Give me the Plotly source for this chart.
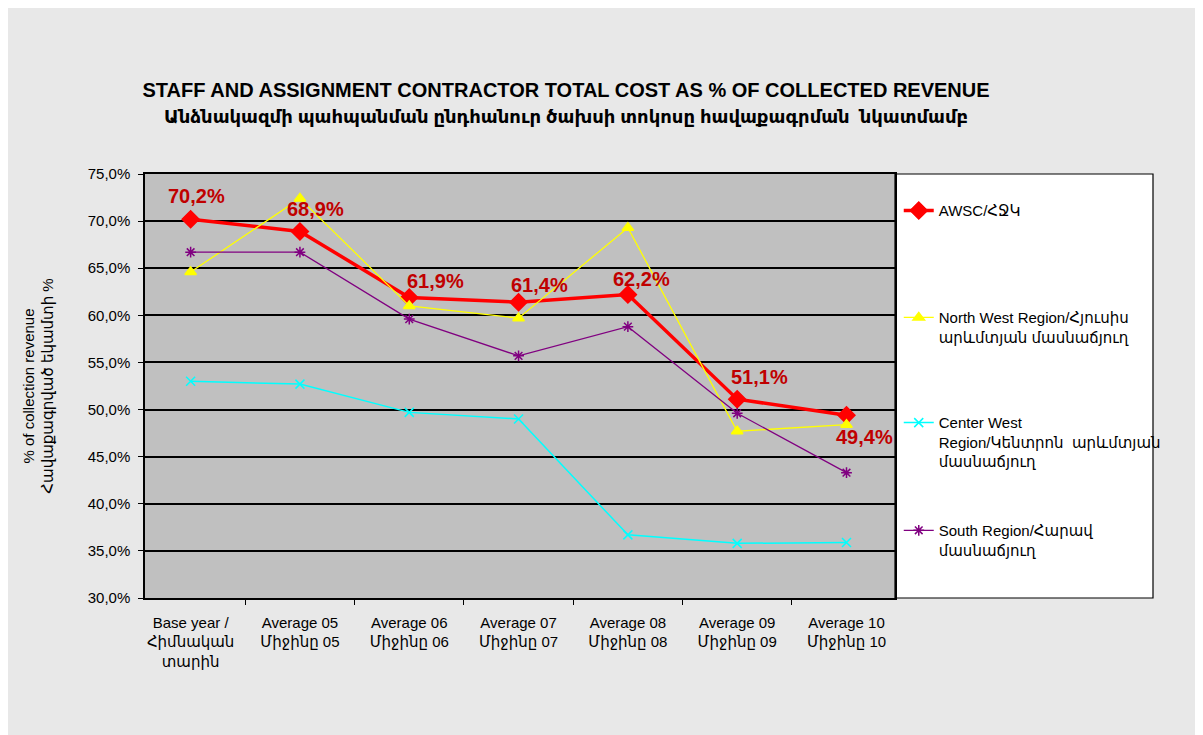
import plotly.graph_objects as go


# ═══════════════════════════════════════════════════════════════
# Datos
# ═══════════════════════════════════════════════════════════════

categorias = [
    "Base year /<br>Հիմնական<br>տարին",
    "Average 05<br>Միջինը 05",
    "Average 06<br>Միջինը 06",
    "Average 07<br>Միջինը 07",
    "Average 08<br>Միջինը 08",
    "Average 09<br>Միջինը 09",
    "Average 10<br>Միջինը 10",
]

awsc = [70.2, 68.9, 61.9, 61.4, 62.2, 51.1, 49.4]
north_west = [64.6, 72.4, 61.0, 59.7, 69.3, 47.7, 48.4]
center_west = [53.0, 52.7, 49.7, 49.0, 36.7, 35.8, 35.9]
south = [66.7, 66.7, 59.6, 55.7, 58.8, 49.6, 43.3]

nombres = [
    "AWSC/ՀՋԿ",
    "North West Region/Հյուսիս<br>արևմտյան մասնաճյուղ",
    "Center West<br>Region/Կենտրոն  արևմտյան<br>մասնաճյուղ",
    "South Region/Հարավ<br>մասնաճյուղ",
]

titulo = ("<b>STAFF AND ASSIGNMENT CONTRACTOR TOTAL COST AS % OF COLLECTED REVENUE</b><br>"
          "<span style='font-size:18px'><b>Անձնակազմի պահպանման ընդհանուր ծախսի տոկոսը "
          "հավաքագրման  նկատմամբ</b></span>")

FUENTE = "Arial, 'Liberation Sans', 'Noto Sans', 'DejaVu Sans', sans-serif"


# ═══════════════════════════════════════════════════════════════
# Gráfico
# ═══════════════════════════════════════════════════════════════

fig = go.Figure()

# (nombre, valores, color, ancho, símbolo, tamaño, leyenda, y de la leyenda)
series = [
    (nombres[0], awsc, "#FF0000", 3.5, "diamond", 13, "legend", 0.952),
    (nombres[1], north_west, "#FFFF00", 1.3, "triangle-up", 10, "legend2", 0.700),
    (nombres[2], center_west, "#00FFFF", 1.5, "x-thin-open", 9, "legend3", 0.452),
    (nombres[3], south, "#800080", 1.3, "asterisk-open", 9, "legend4", 0.198),
]

leyendas = {}
for nombre, valores, color, ancho, simbolo, tam, leyenda, y_ley in series:
    fig.add_trace(go.Scatter(
        x=categorias, y=valores, name=nombre, mode="lines+markers",
        line=dict(color=color, width=ancho),
        marker=dict(symbol=simbolo, size=tam, color=color,
                    line=dict(color=color, width=1.5)),
        legend=leyenda,
    ))
    leyendas[leyenda] = dict(
        x=1.005, xanchor="left", y=y_ley, yanchor="top", valign="top",
        bgcolor="rgba(0,0,0,0)", borderwidth=0,
        font=dict(family=FUENTE, size=15, color="black"),
    )

# etiquetas de la serie AWSC
desplaz_x = [6, 16, 26, 21, 14, 22, 18]
desplaz_y = [23, 22, 16, 17, 16, 22, -22]
for cat, val, dx, dy in zip(categorias, awsc, desplaz_x, desplaz_y):
    fig.add_annotation(
        x=cat, y=val, text=f"<b>{val:.1f}%</b>".replace(".", ","),
        showarrow=False, xshift=dx, yshift=dy,
        font=dict(family=FUENTE, size=20, color="#C00000"),
    )

# caja blanca de la leyenda
fig.add_shape(type="rect", xref="paper", yref="paper",
              x0=1.0, x1=1.344, y0=0, y1=1,
              fillcolor="white", line=dict(color="black", width=1.2), layer="below")

fig.update_layout(
    width=1195, height=727,
    paper_bgcolor="#E8E8E8",
    plot_bgcolor="#C0C0C0",
    margin=dict(l=137, r=308, t=166, b=137),
    separators=", ",
    font=dict(family=FUENTE, size=15, color="black"),
    title=dict(text=titulo, x=0.467, xanchor="center", y=0.877, yanchor="middle",
               font=dict(family=FUENTE, size=20, color="black")),
    showlegend=True,
    **leyendas,
    xaxis=dict(
        showline=True, linecolor="black", linewidth=1.5, mirror=True,
        ticks="outside", tickson="boundaries", ticklen=5, tickcolor="black",
        showgrid=False, tickfont=dict(size=15), ticklabelstandoff=10,
    ),
    yaxis=dict(
        range=[30, 75], dtick=5, tickformat=".1f", ticksuffix="%",
        showline=True, linecolor="black", linewidth=1.5, mirror=True,
        ticks="outside", ticklen=5, tickcolor="black",
        showgrid=True, gridcolor="black", gridwidth=1.5,
        tickfont=dict(size=15), ticklabelstandoff=5,
        title=dict(text="% of collection revenue<br>Հավաքագրված եկամտի %",
                   font=dict(size=15), standoff=30),
    ),
)

fig.write_html("out.html")
